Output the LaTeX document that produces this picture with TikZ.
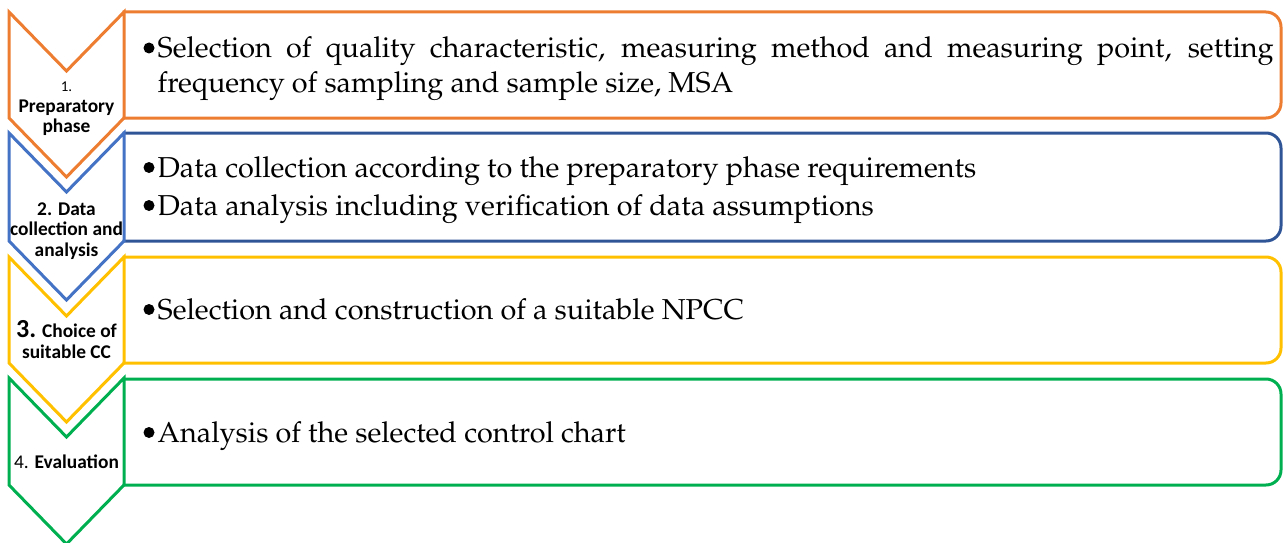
\documentclass[tikz,border=0pt]{standalone}
\usepackage[T1]{fontenc}
\usepackage{fontspec}
\newfontfamily\calib{Carlito}
\newcommand\palfont{\fontencoding{T1}\fontfamily{ppl}\selectfont}
\definecolor{cOrange}{HTML}{ED7D31}
\definecolor{cBlue}{HTML}{4472C4}
\definecolor{cBlueDark}{HTML}{2F5597}
\definecolor{cYellow}{HTML}{FFC000}
\definecolor{cGreen}{HTML}{00B050}
\begin{document}
\begin{tikzpicture}[x=1pt,y=-1pt,
  chev/.style={line width=3pt, line join=miter},
  panel/.style={line width=3pt, rounded corners=15pt, line cap=rect},
  stage/.style={font=\calib\bfseries\fontsize{19.4}{20.5}\selectfont, align=center, inner sep=0},
  itemtext/.style={font=\palfont\fontsize{28.8}{34}\selectfont, anchor=base west, inner sep=0},
  bul/.style={fill=black, draw=none}]
\useasboundingbox (0,0) rectangle (1283,543);

% chevron: top t, bottom of straight part b
\newcommand\chevron[3]{%
  \draw[chev,#3] (9,#1) -- (66.5,#1+59) -- (124,#1) -- (124,#2) -- (66.5,#2+59) -- (9,#2) -- cycle;}
\newcommand\panel[3]{%
  \draw[panel,#3] (124,#1) -- (1281,#1) -- (1281,#2) -- (124,#2);}
% bullet mark set before a text line whose baseline is at y=#1
\newcommand\bulletat[1]{\fill[bul] (149,#1-9.5) circle (5.5);}

% stage 1
\panel{12}{118}{cOrange}
\chevron{12}{118}{cOrange}
\node[stage] (s1) at (66.5,109) {{\mdseries\fontsize{15}{20.5}\selectfont 1.}\\Preparatory\\phase};
\bulletat{57.5}
\node[itemtext] (t1a) at (157.5,57.5) {\makebox[1116pt][s]{Selection of quality characteristic, measuring method and measuring point, setting}};
\node[itemtext] (t1b) at (157.5,92.5) {frequency of sampling and sample size, MSA};

% stage 2
\panel{133}{241}{cBlueDark}
\chevron{133}{241}{cBlue}
\node[stage] (s2) at (66.5,231) {2. Data\\collection and\\analysis};
\bulletat{177}
\node[itemtext] (t2a) at (157.5,177) {Data collection according to the preparatory phase requirements};
\bulletat{215}
\node[itemtext] (t2b) at (157.5,215) {Data analysis including verification of data assumptions};

% stage 3
\panel{257}{363}{cYellow}
\chevron{257}{363}{cYellow}
\node[stage] (s3) at (66.5,339.5) {{\fontsize{26}{23}\selectfont 3.} Choice of\\suitable CC};
\bulletat{319}
\node[itemtext] (t3) at (157.5,319) {Selection and construction of a suitable NPCC};

% stage 4
\panel{379}{485}{cGreen}
\chevron{378}{485}{cGreen}
\node[stage] (s4) at (66.5,462) {{\mdseries 4.} Evaluation};
\bulletat{442}
\node[itemtext] (t4) at (157.5,442) {Analysis of the selected control chart};
\end{tikzpicture}
\end{document}
